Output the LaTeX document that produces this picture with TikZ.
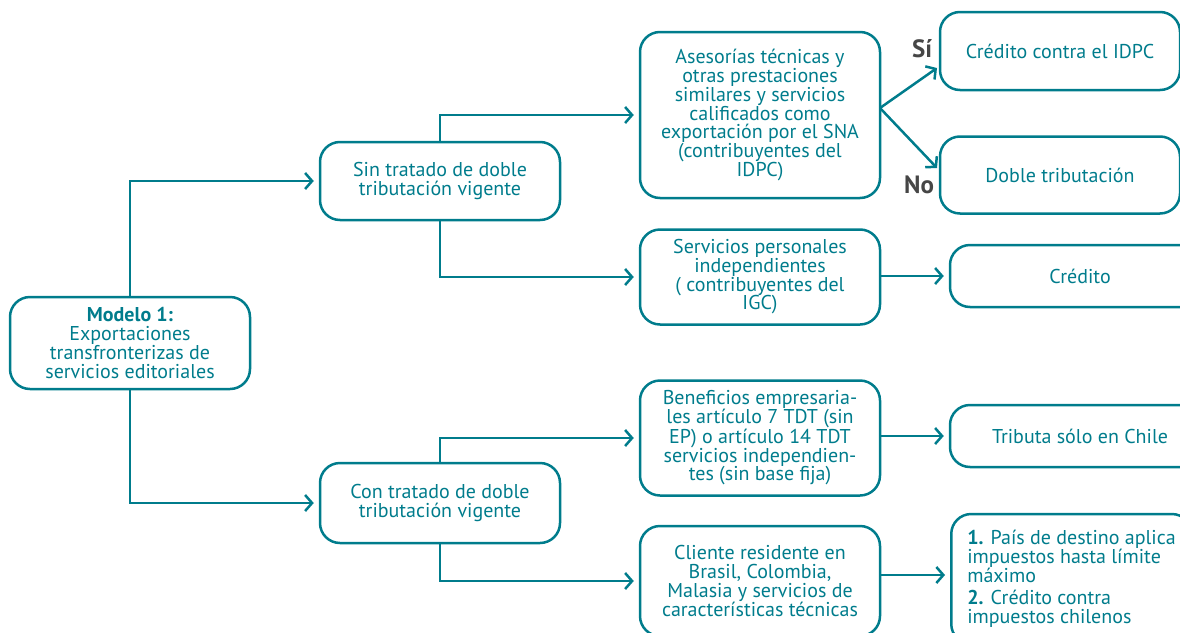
\documentclass[tikz,border=0pt]{standalone}
\usepackage{fontspec}
\setmainfont{PT Sans}
\usetikzlibrary{arrows.meta}
\definecolor{petrol}{RGB}{0,124,140}
\definecolor{grisSN}{RGB}{70,70,70}

\begin{document}
\begin{tikzpicture}[x=1pt,y=-1pt,
    caja/.style={draw=petrol, line width=2.5pt, rounded corners=20pt, text=petrol,
        align=center, inner sep=0pt, font=\fontsize{20}{18.7}\selectfont},
    flecha/.style={draw=petrol, line width=2.5pt, shorten >=5pt,
        -{Straight Barb[length=7pt,width=16pt,line width=2.5pt]}},
    sino/.style={text=grisSN, font=\fontsize{25}{26}\selectfont\bfseries, inner sep=0pt}]
    \useasboundingbox (0,0) rectangle (1180,632);
    \clip (0,0) rectangle (1180,632);

    \node[caja, minimum width=240pt, minimum height=92pt] (modelo) at (130,343)
        {\textbf{Modelo 1:}\\Exportaciones\\transfronterizas de\\servicios editoriales};
    \node[caja, minimum width=240pt, minimum height=78pt] (sin) at (440,181)
        {Sin tratado de doble\\tributación vigente};
    \node[caja, minimum width=240pt, minimum height=80pt] (con) at (440,503)
        {Con tratado de doble\\tributación vigente};

    \node[caja, minimum width=240pt, minimum height=166pt] (asesorias) at (760,115)
        {Asesorías técnicas y\\otras prestaciones\\similares y servicios\\calificados como\\exportación por el SNA\\(contribuyentes del\\IDPC)};
    \node[caja, minimum width=240pt, minimum height=95pt] (personales) at (760,277)
        {Servicios personales\\independientes\\( contribuyentes del\\IGC)};
    \node[caja, minimum width=240pt, minimum height=115pt] (beneficios) at (760,438)
        {Beneficios empresaria-\\les artículo 7 TDT (sin\\EP) o artículo 14 TDT\\servicios independien-\\tes (sin base fija)};
    \node[caja, minimum width=240pt, minimum height=110pt] (cliente) at (760,581)
        {Cliente residente en\\Brasil, Colombia,\\Malasia y servicios de\\características técnicas};

    \node[caja, minimum width=240pt, minimum height=78pt] (creditoidpc) at (1060,51)
        {Crédito contra el IDPC};
    \node[caja, minimum width=240pt, minimum height=77pt] (doble) at (1060,175)
        {Doble tributación};
    \node[caja, minimum width=260pt, minimum height=62pt] (credito) at (1080,276)
        {Crédito};
    \node[caja, minimum width=260pt, minimum height=62pt] (tributa) at (1080,436)
        {Tributa sólo en Chile};
    \node[caja, anchor=west, inner xsep=16pt, minimum height=130pt, align=left] (limite) at (950,579)
        {\textbf{1.} País de destino aplica\\impuestos hasta límite\\máximo\\[4pt]\textbf{2.} Crédito contra\\impuestos chilenos};

    \node[sino] (si) at (922,49) {Sí};
    \node[sino] (no) at (919,185) {No};

    \coordinate (bifurca) at (880,108);
    \coordinate (puntasi) at (937,68);
    \coordinate (puntano) at (937,168);

    \draw[flecha] (modelo.north) |- (sin.west);
    \draw[flecha] (modelo.south) |- (con.west);
    \draw[flecha] (sin.north) |- (asesorias.west);
    \draw[flecha] (sin.south) |- (personales.west);
    \draw[flecha] (con.north) |- (beneficios.west);
    \draw[flecha] (con.south) |- (cliente.west);
    \draw[flecha, shorten >=0pt] (bifurca) -- (puntasi);
    \draw[flecha, shorten >=0pt] (bifurca) -- (puntano);
    \draw[flecha] (personales.east |- credito.west) -- (credito.west);
    \draw[flecha] (beneficios.east |- tributa.west) -- (tributa.west);
    \draw[flecha] (cliente.east |- 0,575) -- (limite.west |- 0,575);
\end{tikzpicture}
\end{document}
